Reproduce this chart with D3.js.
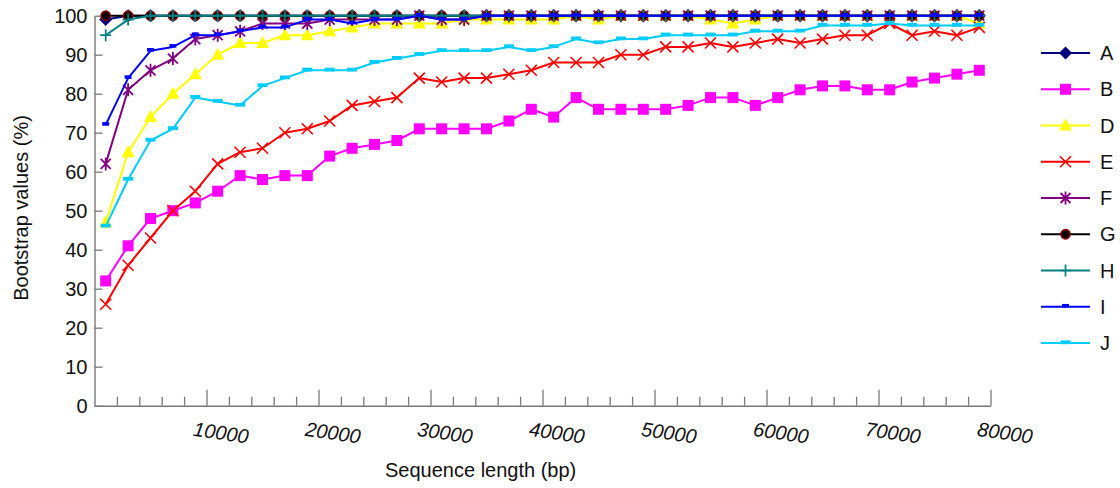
<!DOCTYPE html>
<html>
<head>
<meta charset="utf-8">
<script src="https://d3js.org/d3.v7.min.js"></script>
<style>
  html, body { margin: 0; padding: 0; background: #ffffff; }
  svg { display: block; font-family: "Liberation Sans", Arial, sans-serif; }
</style>
</head>
<body>
<svg id="chart" width="1120" height="488"></svg>
<script>
// ---------------- data ----------------
const seqLength = [1000, 3000, 5000, 7000, 9000, 11000, 13000, 15000, 17000, 19000,
  21000, 23000, 25000, 27000, 29000, 31000, 33000, 35000, 37000, 39000,
  41000, 43000, 45000, 47000, 49000, 51000, 53000, 55000, 57000, 59000,
  61000, 63000, 65000, 67000, 69000, 71000, 73000, 75000, 77000, 79000];

const seriesNames = ["A", "B", "D", "E", "F", "G", "H", "I", "J"];

const valuesA = [99, 100, 100, 100, 100, 100, 100, 100, 100, 100,
  100, 100, 100, 100, 100, 100, 100, 100, 100, 100,
  100, 100, 100, 100, 100, 100, 100, 100, 100, 100,
  100, 100, 100, 100, 100, 100, 100, 100, 100, 100];
const valuesB = [32, 41, 48, 50, 52, 55, 59, 58, 59, 59,
  64, 66, 67, 68, 71, 71, 71, 71, 73, 76,
  74, 79, 76, 76, 76, 76, 77, 79, 79, 77,
  79, 81, 82, 82, 81, 81, 83, 84, 85, 86];
const valuesD = [47, 65, 74, 80, 85, 90, 93, 93, 95, 95,
  96, 97, 98, 98, 98, 98, 99, 99, 99, 99,
  99, 100, 99, 100, 100, 100, 100, 99, 98, 99,
  100, 100, 100, 100, 100, 100, 100, 100, 100, 98];
const valuesE = [26, 36, 43, 50, 55, 62, 65, 66, 70, 71,
  73, 77, 78, 79, 84, 83, 84, 84, 85, 86,
  88, 88, 88, 90, 90, 92, 92, 93, 92, 93,
  94, 93, 94, 95, 95, 98, 95, 96, 95, 97];
const valuesF = [62, 81, 86, 89, 94, 95, 96, 98, 98, 98,
  99, 99, 99, 99, 100, 99, 99, 100, 100, 100,
  100, 100, 100, 100, 100, 100, 100, 100, 100, 100,
  100, 100, 100, 100, 100, 100, 100, 100, 100, 100];
const valuesG = [100, 100, 100, 100, 100, 100, 100, 100, 100, 100,
  100, 100, 100, 100, 100, 100, 100, 100, 100, 100,
  100, 100, 100, 100, 100, 100, 100, 100, 100, 100,
  100, 100, 100, 100, 100, 100, 100, 100, 100, 100];
const valuesH = [95, 99, 100, 100, 100, 100, 100, 100, 100, 100,
  100, 100, 100, 100, 100, 100, 100, 100, 100, 100,
  100, 100, 100, 100, 100, 100, 100, 100, 100, 100,
  100, 100, 100, 100, 100, 100, 100, 100, 100, 100];
const valuesI = [72, 84, 91, 92, 95, 95, 96, 97, 97, 99,
  99, 98, 99, 99, 100, 99, 99, 100, 100, 100,
  100, 100, 100, 100, 100, 100, 100, 100, 100, 100,
  100, 100, 100, 100, 100, 100, 100, 100, 100, 100];
const valuesJ = [46, 58, 68, 71, 79, 78, 77, 82, 84, 86,
  86, 86, 88, 89, 90, 91, 91, 91, 92, 91,
  92, 94, 93, 94, 94, 95, 95, 95, 95, 96,
  96, 96, 97.5, 97.5, 97.5, 98, 97.5, 97.5, 97.5, 97.5];

const xTickValues = [10000, 20000, 30000, 40000, 50000, 60000, 70000, 80000];
const xMinorTickValues = [2000, 4000, 6000, 8000, 12000, 14000, 16000, 18000,
  22000, 24000, 26000, 28000, 32000, 34000, 36000, 38000, 42000, 44000, 46000, 48000,
  52000, 54000, 56000, 58000, 62000, 64000, 66000, 68000, 72000, 74000, 76000, 78000];
const yTickValues = [0, 10, 20, 30, 40, 50, 60, 70, 80, 90, 100];

const xTitle = "Sequence length (bp)";
const yTitle = "Bootstrap values (%)";

// ---------------- styles ----------------
const allValues = [valuesA, valuesB, valuesD, valuesE, valuesF, valuesG, valuesH, valuesI, valuesJ];
const styles = [
  { color: "#000080", marker: "diamond" },
  { color: "#ff00ff", marker: "square" },
  { color: "#ffff00", marker: "triangle" },
  { color: "#ff0000", marker: "x" },
  { color: "#800080", marker: "star" },
  { color: "#000000", marker: "circle" },
  { color: "#008080", marker: "plus" },
  { color: "#0000ff", marker: "dashS" },
  { color: "#00ccff", marker: "dashL" }
];

const svg = d3.select("#chart");
svg.append("rect").attr("width", 1120).attr("height", 488).attr("fill", "#fff");

const x = d3.scaleLinear().domain([0, 80000]).range([94.5, 990.5]);
const y = d3.scaleLinear().domain([0, 100]).range([405.7, 15.7]);

const axisColor = "#7a7a7a";

// Y axis
const yAxis = svg.append("g")
  .attr("transform", `translate(${x(0)},0)`)
  .call(d3.axisLeft(y).tickValues(yTickValues).tickSizeInner(-8).tickSizeOuter(0).tickPadding(7));
yAxis.select(".domain").attr("stroke", axisColor).attr("stroke-width", 1.4);
yAxis.selectAll(".tick line").attr("stroke", axisColor).attr("stroke-width", 1.3);
yAxis.selectAll(".tick text")
  .attr("font-size", 20).attr("fill", "#111")
  .attr("font-family", "Liberation Sans, Arial, sans-serif");

// X axis minor ticks
const xMinor = svg.append("g")
  .attr("transform", `translate(0,${y(0)})`)
  .call(d3.axisBottom(x).tickValues(xMinorTickValues).tickSizeInner(-9).tickSizeOuter(0).tickFormat(""));
xMinor.select(".domain").remove();
xMinor.selectAll(".tick line").attr("stroke", axisColor).attr("stroke-width", 1.3);

// X axis major
const xAxis = svg.append("g")
  .attr("transform", `translate(0,${y(0)})`)
  .call(d3.axisBottom(x).tickValues(xTickValues).tickSizeInner(-16).tickSizeOuter(0).tickFormat(d3.format("d")));
xAxis.select(".domain").attr("stroke", axisColor).attr("stroke-width", 1.4);
xAxis.selectAll(".tick line").attr("stroke", axisColor).attr("stroke-width", 1.3);
xAxis.selectAll(".tick text")
  .attr("font-size", 20).attr("fill", "#111")
  .attr("font-style", "italic")
  .attr("font-family", "Liberation Sans, Arial, sans-serif")
  .attr("text-anchor", "middle")
  .attr("dy", null)
  .attr("y", 0)
  .attr("dominant-baseline", "central")
  .attr("transform", "translate(14,27) rotate(8)");

// Titles
svg.append("text")
  .attr("x", 385).attr("y", 477)
  .attr("font-size", 20).attr("fill", "#111")
  .text(xTitle);
svg.append("text")
  .attr("transform", "translate(28,208) rotate(-90)")
  .attr("text-anchor", "middle")
  .attr("font-size", 20).attr("fill", "#111")
  .text(yTitle);

// Markers
function drawMarker(g, type, color) {
  switch (type) {
    case "diamond":
      g.append("path").attr("d", "M0,-6.5L6.5,0L0,6.5L-6.5,0Z").attr("fill", color); break;
    case "square":
      g.append("rect").attr("x", -5.5).attr("y", -5.5).attr("width", 11).attr("height", 11).attr("fill", color); break;
    case "triangle":
      g.append("path").attr("d", "M0,-7L6.5,5L-6.5,5Z").attr("fill", color); break;
    case "x":
      g.append("path").attr("d", "M-5.5,-5.5L5.5,5.5M-5.5,5.5L5.5,-5.5")
        .attr("stroke", color).attr("stroke-width", 1.6).attr("fill", "none"); break;
    case "star":
      g.append("path").attr("d", "M-5,-5L5,5M-5,5L5,-5M0,-6.5L0,6.5")
        .attr("stroke", color).attr("stroke-width", 1.8).attr("fill", "none"); break;
    case "circle":
      g.append("circle").attr("r", 4.6).attr("fill", "#000").attr("stroke", "#8b0000").attr("stroke-width", 1.6); break;
    case "plus":
      g.append("path").attr("d", "M-5.5,0L5.5,0M0,-6L0,6")
        .attr("stroke", color).attr("stroke-width", 1.7).attr("fill", "none"); break;
    case "dashS":
      g.append("rect").attr("x", -3.5).attr("y", -2.8).attr("width", 7).attr("height", 3.6).attr("fill", color); break;
    case "dashL":
      g.append("rect").attr("x", -5).attr("y", -2.6).attr("width", 10).attr("height", 3.8).attr("fill", color); break;
  }
}

const line = d3.line().x(d => x(d[0])).y(d => y(d[1]));

seriesNames.forEach((name, i) => {
  const vals = allValues[i];
  const pts = seqLength.map((s, j) => [s, vals[j]]);
  const st = styles[i];
  const g = svg.append("g").attr("class", "series-" + name);
  g.append("path").datum(pts)
    .attr("d", line)
    .attr("fill", "none")
    .attr("stroke", st.color)
    .attr("stroke-width", 2)
    .attr("stroke-linejoin", "round");
  g.selectAll("g.m").data(pts).join("g")
    .attr("class", "m")
    .attr("transform", d => `translate(${x(d[0])},${y(d[1])})`)
    .each(function () { drawMarker(d3.select(this), st.marker, st.color); });
});

// Legend
const legY0 = 53, legStep = 36.25;
seriesNames.forEach((name, i) => {
  const st = styles[i];
  const gy = legY0 + i * legStep;
  const g = svg.append("g").attr("transform", `translate(0,${gy})`);
  g.append("line").attr("x1", 1041).attr("x2", 1090).attr("y1", 0).attr("y2", 0)
    .attr("stroke", st.color).attr("stroke-width", 2);
  const mg = g.append("g").attr("transform", "translate(1065.5,0)");
  drawMarker(mg, st.marker, st.color);
  g.append("text").attr("x", 1100).attr("y", 0).attr("dy", "0.36em")
    .attr("font-size", 20).attr("fill", "#111").text(name);
});
</script>
</body>
</html>
